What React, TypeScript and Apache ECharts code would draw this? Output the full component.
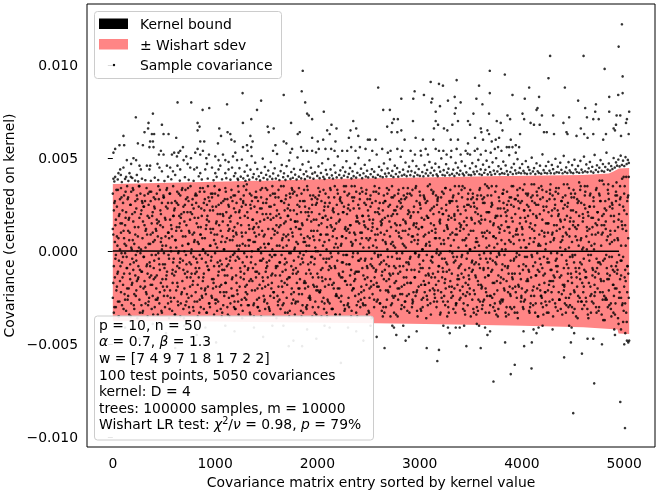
import React, { useEffect, useRef } from "react";
import * as echarts from "echarts";

// ---------- data (x = entry index, y in units of 1e-4) ----------
const xTicks = [0, 1000, 2000, 3000, 4000, 5000];
const yTicks = [-0.01, -0.005, 0, 0.005, 0.01];
const Y_UNIT = 1e-4;
const GROUP = 10; // inBand[k] holds samples near entry k*GROUP, inBandMid[k] near k*GROUP+5

const bandIdx = [0, 1000, 2100, 3000, 3800, 4600, 4850, 4900, 4950, 5049];
const bandUpper = [36.1, 37.3, 38.8, 39.6, 40.4, 41.0, 41.8, 43.0, 44.5, 44.8];
const bandLowerIdx = [0, 1000, 2589, 3205, 4000, 4600, 4900, 4935, 4945, 5049];
const bandLower = [-37.5, -37.8, -38.7, -39.2, -40.0, -40.8, -41.9, -42.0, -44.2, -44.4];

const kernelIdx = [0, 2500, 4950];
const kernelVal = [0.1, 0, 0];

const inBand = [
[12,-25,31],[-8,22,-33],[5,-14,27],[-30,17,-2],[24,-19,8],[-11,33,-27],[19,-5,-35],[1,28,-16],[-22,10,34],[15,-29,-6],
[-3,26,-18],[30,-12,7],[-26,14,-1],[21,-32,3],[-9,35,-20],[11,-24,29],[-34,6,18],[25,-7,-15],[2,-28,32],[-17,20,-4],
[33,-10,16],[-23,4,-31],[9,27,-13],[-5,-21,23],[28,-36,0],[-14,13,-8],[18,-26,35],[-1,31,-19],[22,-11,-29],[7,-33,26],
[-20,24,-3],[14,-16,30],[-28,2,11],[34,-8,-23],[-12,19,-35],[4,-27,25],[-6,32,-14],[27,-18,9],[-31,15,-2],[10,-24,21],
[-15,29,-9],[23,-30,6],[-2,12,-26],[31,-13,17],[-25,8,-34],[16,-4,28],[-10,-22,33],[20,5,-17],[-33,26,1],[13,-19,-7],
[29,-1,-24],[-7,18,-30],[3,-15,24],[-19,34,-11],[26,-28,10],[-4,7,-36],[17,-21,31],[-27,0,14],[8,-12,-32],[35,-6,19],
[-13,22,-25],[6,-34,27],[-21,11,2],[32,-17,-8],[-1,25,-29],[19,-9,13],[-35,30,-4],[11,-23,20],[-16,3,34],[24,-31,-10],
[0,16,-20],[-29,33,8],[14,-7,-27],[-11,21,29],[27,-25,4],[-6,10,-33],[21,-14,35],[-24,1,-12],[9,28,-18],[-32,-3,23],
[18,-27,6],[-9,31,-22],[30,-11,15],[-18,5,-35],[4,24,-14],[-26,-2,32],[13,-30,9],[-4,19,-24],[34,-16,1],[-12,26,-31],
[7,-21,28],[-23,12,-6],[25,-33,17],[-2,35,-19],[16,-10,-28],[-30,22,3],[10,-5,31],[-15,29,-25],[22,-20,12],[-8,6,-34],
[31,-26,-1],[-19,15,24],[2,-32,9],[-27,30,-13],[14,-8,33],[-5,20,-22],[26,-18,5],[-33,8,-10],[19,-29,27],[-10,1,-24],
[5,34,-17],[-22,-4,21],[28,-13,-30],[-7,25,11],[12,-35,18],[-28,16,-3],[33,-9,-20],[-14,27,6],[8,-24,30],[-1,13,-27],
[21,-31,-5],[-17,9,26],[15,-3,-23],[-34,32,1],[3,-19,22],[-11,28,-14],[24,-26,10],[-6,4,-32],[30,-15,35],[-25,19,-8],
[10,-22,25],[-3,36,-18],[18,-10,-29],[-29,14,3],[6,-33,31],[-15,23,-6],[27,0,-21],[-9,17,12],[13,-28,-35],[-21,5,29],
[32,-14,8],[-26,21,-11],[1,-30,27],[-12,9,-25],[23,-5,16],[-35,29,-1],[11,-20,34],[-4,26,-16],[17,-27,4],[-19,2,-31],
[26,-9,20],[-8,33,-28],[4,-18,12],[-31,24,-5],[20,-24,30],[-13,7,-20],[35,-12,1],[-22,18,-34],[9,-2,25],[-2,29,-13],
[14,-36,19],[-24,10,-8],[29,-19,33],[-6,3,-26],[18,-31,14],[-16,27,-2],[7,-11,-29],[-28,35,9],[22,-7,-17],[-10,16,28],
[3,-25,-6],[-33,19,23],[25,-14,6],[-14,31,-32],[12,-1,17],[-20,-28,34],[31,8,-12],[-5,22,-22],[16,-34,2],[-27,13,-9],
[20,-17,30],[-11,4,-27],[34,-23,12],[-1,27,-15],[9,-32,21],[-23,15,-4],[27,-6,-33],[-17,33,7],[5,-20,24],[-30,0,-12],
[17,-29,35],[-7,21,-19],[23,-10,3],[-25,30,-26],[11,-3,16],[-3,25,-35],[30,-18,8],[-19,6,-7],[2,-27,29],[-34,17,-21],
[28,-12,11],[-14,34,-30],[6,-22,20],[-21,9,-2],[15,-35,27],[-9,18,-16],[33,-4,-25],[-28,24,5],[19,-15,31],[-4,1,-33],
[9,-26,17],[-18,29,-10],[26,-8,-28],[-1,14,33],[13,-31,-3],[-31,22,8],[21,-17,-20],[-8,35,12],[4,-24,-34],[-24,7,25],
[31,-20,2],[-12,16,-25],[17,-34,28],[-27,3,-14],[8,26,-6],[-6,-11,21],[24,-29,35],[-16,12,-31],[35,-2,7],[-2,20,-18],
[12,-28,23],[-30,31,-7],[22,-13,14],[-10,5,-35],[3,-21,29],[-20,27,-1],[29,-16,10],[-15,9,-24],[16,-33,32],[-35,18,-11],
[25,-5,-27],[-5,23,15],[10,-30,4],[-22,34,-19],[32,-9,19],[-13,2,-29],[14,-25,26],[-29,13,-4],[7,-18,33],[-9,28,-14],
[19,-32,6],[-25,17,-20],[30,-7,24],[-4,11,-36],[13,-23,15],[-18,32,-9],[35,-14,-1],[-11,6,27],[2,-27,-17],[-26,21,9],
[23,-19,31],[-7,26,-28],[16,-2,10],[-32,15,-13],[6,-35,22],[-15,30,-5],[27,-10,18],[-21,4,-30],[11,-26,34],[-3,19,-21],
[33,-15,-8],[-19,8,25],[4,-29,13],[-28,35,-3],[20,-12,29],[-8,22,-33],[15,-24,2],[-34,11,-16],[24,-4,20],[-12,31,-26],
[8,-20,27],[-23,14,-11],[28,-31,7],[-1,24,-23],[17,-8,34],[-30,3,-18],[11,-27,16],[-14,29,-6],[31,-17,-32],[-6,9,22],
[21,-33,12],[-17,18,-3],[5,-10,30],[-26,33,-28],[14,-22,21],[-10,6,-14],[34,-1,-24],[-22,27,15],[9,-35,4],[-3,12,-19],
[26,-7,32],[-31,23,-9],[13,-26,18],[-9,1,-30],[30,-16,8],[-18,28,-22],[3,-13,26],[-24,19,-2],[18,-29,35],[-13,10,-17],
[36,-21,3],[-5,15,-34],[11,-3,23],[-20,31,-12],[24,-27,14],[-14,7,-25],[7,-18,30],[-27,25,1],[29,-11,-21],[-2,21,-8],
[15,-34,17],[-22,4,29],[32,-14,-4],[-11,20,-27],[4,-24,11],[-29,34,-15],[22,-6,25],[-7,13,-35],[17,-30,7],[-19,27,-10],
[9,-16,33],[-25,18,-22],[27,-1,10],[-3,30,-31],[19,-20,20],[-33,9,-5],[12,-28,27],[-15,24,-18],[31,-9,2],[-8,15,-26],
[20,-25,13],[-12,33,-3],[6,-19,35],[-28,12,-14],[34,-32,6],[-17,22,-24],[14,-4,18],[-1,28,-29],[25,-13,9],[-23,1,-20],
[11,-35,24],[-6,17,-11],[29,-10,31],[-21,26,-33],[2,-23,15],[-14,5,-6],[23,-30,28],[-32,20,-16],[16,-7,3],[-9,34,-27],
[30,-18,19],[-19,10,-31],[8,-27,26],[-26,29,-1],[17,-14,36],[-4,7,-22],[35,-24,11],[-13,21,-9],[3,-33,21],[-29,16,-4],
[24,-11,30],[-10,25,-25],[14,-30,8],[-23,2,-17],[32,-6,18],[-7,35,-34],[19,-21,4],[-31,13,-13],[10,-2,27],[-17,23,-28],
[6,-26,14],[-27,31,-7],[26,-15,33],[-2,11,-21],[21,-33,1],[-16,19,-30],[13,-9,22],[-34,27,-12],[29,-19,10],[-5,5,-24],
[18,-31,35],[-20,16,-15],[4,-5,24],[-12,28,-33],[28,-22,9],[-25,12,-1],[9,-36,30],[-8,23,-19],[34,-12,15],[-15,2,-27],
[13,-20,27],[-30,33,-10],[22,-27,6],[-3,18,-26],[16,-8,31],[-21,25,-3],[31,-16,19],[-11,4,-32],[7,-30,22],[-24,29,-14],
[27,-3,12],[-8,20,-29],[11,-24,36],[-33,14,-6],[19,-13,25],[-1,30,-20],[25,-35,3],[-18,9,-11],[3,-21,28],[-28,35,-24],
[33,-9,17],[-13,24,-34],[8,-17,10],[-22,1,-27],[24,-29,32],[-6,15,-4],[15,-33,21],[-27,28,-16],[36,-10,5],[-10,19,-22],
[10,-26,30],[-19,6,-13],[28,-14,23],[-5,32,-30],[14,-4,11],[-32,22,-8],[20,-22,34],[-14,12,-26],[5,-31,16],[-23,27,-2],
[29,-18,8],[-9,36,-21],[17,-28,25],[-25,10,-33],[9,-7,19],[-16,26,-12],[34,-25,2],[-3,16,-29],[22,-12,31],[-30,5,-17],
[14,-33,22],[-21,29,-6],[31,-2,13],[-11,21,-35],[6,-19,28],[-27,14,-24],[19,-9,37],[-6,33,-15],[26,-27,7],[-17,1,-31],
[2,-22,18],[-29,25,-10],[23,-14,32],[-14,8,-27],[35,-31,11],[-2,19,-36],[12,-5,24],[-24,31,-19],[18,-23,3],[-9,13,-13],
[27,-28,29],[-18,4,-24],[9,-11,15],[-33,34,-4],[21,-20,21],[-12,17,-32],[30,-6,38],[-7,27,-15],[14,-34,9],[-22,10,-26],
[36,-16,20],[-4,23,-37],[16,-25,12],[-26,6,-9],[8,-30,33],[-15,28,-21],[24,-13,4],[-31,19,-28],[5,-3,26],[-10,35,-18],
[19,-24,16],[-20,11,-34],[32,-8,27],[-6,30,-12],[13,-36,6],[-25,20,-2],[28,-15,35],[-13,3,-25],[39,-29,14],[-3,24,-38],
[22,-19,31],[-28,14,-10],[11,-33,40],[-8,27,-22],[30,-12,7]
];

const inBandMid = [
[-17,9],[26,-30],[-4,14],[33,-21],[-12,3],[7,-35],[-27,20],[15,-8],[-1,29],[22,-14],
[-31,11],[4,-23],[18,32],[-9,-3],[28,-26],[-20,17],[10,-12],[-35,25],[1,-18],[34,6],
[-6,-29],[13,21],[-24,-2],[30,-16],[-15,8],[2,35],[-33,-10],[20,1],[-11,27],[16,-32],
[-3,24],[27,-19],[-22,12],[9,-7],[-29,31],[18,-25],[-8,4],[32,-13],[-18,19],[5,-34],
[24,-5],[-14,28],[11,-20],[-26,15],[35,-1],[-7,-28],[14,22],[-32,7],[3,-15],[29,30],
[-21,-9],[8,17],[-13,33],[23,-24],[-2,10],[31,-31],[-25,2],[12,26],[-10,-17],[19,-4],
[-34,23],[6,-11],[26,13],[-19,-27],[0,31],[15,-6],[-28,18],[33,-22],[-5,8],[21,-36],
[-12,25],[28,-2],[-23,-14],[4,34],[-30,11],[17,-19],[-7,-1],[25,20],[-16,-30],[10,5],
[30,-12],[-4,26],[-27,-6],[13,18],[-9,-33],[34,9],[-20,23],[7,-25],[-14,1],[22,32],
[-1,-20],[-33,14],[19,-8],[-10,29],[27,-28],[3,12],[-24,-3],[31,24],[-17,-15],[9,35],
[-28,4],[16,-26],[-6,20],[25,-11],[-19,33],[11,-31],[-35,-7],[20,16],[1,-22],[-13,28],
[32,-17],[-8,7],[14,-34],[-25,24],[6,-5],[29,19],[-15,-24],[-2,11],[23,-30],[-31,30],
[10,-13],[-21,3],[35,-27],[-4,21],[18,-9],[-29,14],[8,-36],[26,27],[-12,-1],[3,-19],
[-26,33],[21,-23],[-9,6],[12,-16],[-34,25],[30,-3],[-16,17],[5,-29],[24,10],[-7,-11],
[15,29],[-30,-20],[1,13],[-18,-32],[33,2],[-5,23],[20,-14],[-24,8],[9,-26],[-11,34],
[28,-6],[-14,18],[4,-30],[-32,-2],[17,24],[-3,-17],[31,12],[-22,-25],[11,31],[-8,-9],
[22,3],[-27,-29],[13,20],[-6,-13],[35,27],[-19,6],[2,-22],[26,15],[-33,-4],[8,30],
[-15,-18],[19,9],[-1,-35],[29,22],[-23,-8],[10,33],[-10,-26],[32,1],[-28,16],[5,-12],
[16,25],[-20,-3],[24,-20],[-7,12],[-35,31],[14,-29],[-2,5],[27,-16],[-17,21],[3,-31],
[33,8],[-25,19],[7,-24],[-12,-6],[21,28],[-30,-14],[11,17],[-4,-33],[25,0],[-19,26],
[0,-21],[30,14],[-22,32],[9,-10],[-14,-27],[18,3],[-31,22],[26,-19],[-6,9],[13,-35],
[-27,24],[6,-4],[34,-15],[-9,18],[-18,-31],[23,11],[2,29],[-34,-9],[15,-23],[-5,33],
[20,-1],[-13,-20],[29,27],[-24,4],[8,-14],[-2,21],[32,-32],[-16,13],[11,-7],[-29,30],
[25,-25],[-7,10],[14,-18],[-32,35],[4,-3],[-20,23],[35,-12],[-11,6],[19,-29],[-1,16],
[-23,-11],[28,31],[-4,-26],[10,7],[-28,19],[16,-21],[-15,-5],[31,25],[-8,-34],[22,12],
[-33,2],[7,28],[-19,-16],[26,-8],[3,17],[-26,-30],[21,9],[-10,32],[12,-19],[-3,-2],
[34,20],[-21,-28],[-6,14],[17,-11],[-30,26],[9,-33],[27,5],[-16,-7],[1,31],[24,-22],
[-12,16],[-35,-13],[19,29],[5,-24],[-25,3],[30,-17],[-9,22],[14,-1],[-20,-35],[33,10],
[-4,-8],[23,26],[-29,-19],[11,4],[-14,30],[28,-27],[2,15],[-24,-10],[20,34],[-7,-23],
[31,-4],[-17,19],[8,-30],[-27,8],[15,24],[-1,-14],[35,13],[-21,-32],[6,21],[-11,-2],
[25,30],[-32,-18],[13,1],[-5,-25],[29,17],[-18,9],[4,-36],[-26,27],[18,-12],[-9,5],
[22,-28],[-14,33],[-3,-6],[32,20],[-23,-21],[10,12],[-30,-1],[27,28],[-8,-16],[16,7],
[-1,-33],[-25,23],[20,-9],[6,31],[-17,-4],[34,-20],[-11,14],[12,-27],[-33,19],[26,0],
[3,27],[-19,-12],[29,-24],[-6,6],[17,35],[-28,-29],[9,-3],[-13,22],[35,-15],[-21,11],
[14,-7],[-2,29],[-31,-23],[24,16],[-10,-34],[7,3],[-22,25],[31,-18],[-15,-9],[1,33],
[28,18],[-26,-5],[11,-31],[-7,24],[21,-13],[-34,7],[5,30],[-18,-26],[33,-2],[-4,15],
[17,-20],[-29,28],[-9,-10],[26,10],[-20,-33],[2,21],[30,-6],[-13,34],[10,-24],[-24,-1],
[35,26],[-5,-17],[15,8],[-32,-28],[7,19],[-16,-3],[23,-35],[-1,29],[-27,12],[19,-14],
[-10,1],[31,-26],[-20,23],[4,-8],[-35,16],[25,32],[-8,-22],[13,6],[-23,-30],[29,25],
[-14,-12],[8,35],[-30,-4],[20,-19],[-3,11],[33,-33],[-18,27],[6,-2],[26,18],[-25,-24],
[12,9],[-7,-31],[36,22],[-22,2],[2,-16],[-15,30],[24,-10],[-33,13],[15,-28],[-2,36],
[30,-21],[-19,5],[7,26],[-28,-13],[18,32],[-10,-35],[34,4],[-4,20],[-24,-7],[11,-25],
[-30,29],[22,-3],[-12,-22],[4,15],[27,-33],[-21,10],[-6,-18],[33,31],[-16,-1],[9,22],
[-35,-16],[14,7],[25,-28],[-8,34],[-1,-11],[31,19],[-26,-26],[17,2],[-13,27],[6,-34],
[23,13],[-18,-19],[1,30],[-29,-5],[36,24],[-9,-30],[12,8],[-23,18],[29,-14],[-3,-2],
[16,33],[-31,-22],[8,-9],[-14,12],[26,-36],[3,27],[-25,-12],[35,6],[-7,-27],[20,16],
[-19,-4],[30,35],[-11,-25],[13,1],[-34,21],[5,-17],[24,30],[-2,-33],[-27,9],[18,-10],
[1,24],[-22,-14],[33,-30],[-9,14],[10,-6],[-30,31],[27,-22],[-16,3],[38,19],[-5,-37],
[14,-24],[-26,27],[22,-2],[-12,-15],[31,36],[-3,-29],[9,11],[-35,-8],[25,23],[-18,-33],
[6,-11],[-28,30],[37,-20],[-10,7],[17,-39],[-22,25],[29,-5],[-5,16],[12,-28],[-32,40],
[35,-14],[-16,3],[20,-38],[-8,29],[40,-25]
];

// [index, value] pairs
const upperTail = [
633,80, 767,80, 1117,79, 392,74, 225,72, 878,76, 943,77, 349,69, 480,68, 345,66, 829,69, 848,67, 829,65, 1041,66, 1122,64, 1149,63,
104,62, 310,64, 382,63, 404,63, 545,63, 496,63, 620,61, 894,59, 855,59, 1028,58, 1058,62, 1159,60, 1191,59, 23,55, 6,53, 65,57, 111,57,
245,58, 294,57, 365,59, 392,59, 358,56, 398,56, 470,54, 496,52, 451,52, 578,52, 600,53, 642,53, 659,54, 686,56, 627,51, 718,51, 764,50,
806,53, 829,55, 855,52, 881,54, 914,50, 940,52, 1002,51, 1034,49, 1077,52, 1100,49, 1132,48, 1175,51, 1198,53, 1215,49, 137,49, 202,50,
228,49, 179,47, 261,46, 274,44, 365,46, 358,44, 333,46, 72,44, 104,45, 23,40, 6,39, 55,42, 78,41, 163,42, 176,40, 130,40, 235,41, 218,38,
437,47, 456,45, 480,43, 529,46, 561,45, 588,43, 610,41, 632,46, 659,44, 692,49, 731,47, 757,45, 796,44, 822,45, 855,42, 904,44, 921,47,
970,45, 1002,42, 1034,44, 1051,46, 1100,42, 1132,44, 1166,45, 1198,42, 1220,39,
1857,97, 1269,85, 1671,84, 1847,86, 2595,88, 1450,81, 1881,80, 1410,76, 2063,75, 1900,74, 1916,73, 1949,71, 1272,69, 1354,71, 1743,69,
2138,68, 2187,66, 2351,70, 2380,66, 2324,65, 1514,67, 1573,66, 1524,64, 1828,64, 1808,63, 2096,65, 2121,63, 1345,62, 1367,59, 1312,57,
1273,56, 1318,54, 1354,56, 1949,61, 2004,59, 2057,60, 2177,59, 2308,61, 2400,62, 2494,60, 2513,60, 2569,60, 1590,57, 1567,54, 1671,59,
1697,58, 1753,55, 1736,53, 1841,56, 1861,54, 1900,54, 1949,54, 2014,55, 2079,55, 2135,55, 2168,54, 2243,54, 2292,54, 2331,56, 2373,54,
2416,56, 2471,55, 2537,54,
3686,97, 3833,95, 3108,91, 3189,90, 3228,89, 3362,92, 3581,89, 2951,86, 3042,84, 2821,82, 2938,82, 3124,82, 3114,80, 3343,83, 3277,81,
3401,80, 3555,82, 3614,79, 3686,85, 3908,84, 2644,76, 2709,76, 3199,78, 3157,75, 3353,77, 3343,74, 3526,74, 3679,74, 3859,73, 3885,71,
3754,70, 3793,69, 2748,71, 2732,69, 2787,71, 2683,67, 2726,64, 2782,64, 2821,65, 2935,70, 3157,70, 3180,68, 3140,66, 3238,66, 3271,65,
3320,68, 3375,70, 3473,70, 3493,68, 3598,66, 3604,64, 3663,65, 3679,63, 3777,61, 3810,65, 3891,60, 3982,63, 2853,60, 2961,61, 3032,60,
3134,60, 3304,60, 3375,60, 3473,58, 3542,61, 3620,60, 3705,59, 3744,60, 3908,56, 3940,57, 2634,55, 2689,53, 2716,54, 2782,55, 2830,54,
2912,54, 2954,52, 3010,54, 3059,55, 3081,52, 3157,55, 3189,54, 3232,54, 3264,52, 3310,54, 3362,55, 3401,52, 3450,54, 3493,52, 3539,54,
3565,55, 3598,52, 3646,54, 3695,53, 3735,55, 3767,56, 3800,54, 3852,56, 3875,56, 3940,53, 3973,56,
4978,122, 4946,110, 4276,105, 4603,105, 4809,98, 4260,93, 4985,94, 4071,88, 4420,88, 4028,82, 4168,83, 4550,81, 4854,83, 4942,84,
4985,85, 4153,77, 4143,76, 4006,74, 4022,71, 4196,73, 4306,73, 4462,72, 4619,77, 4724,79, 4717,75, 4636,72, 4698,71, 4751,71, 4854,75,
4926,73, 4962,73, 5027,71, 5049,75, 4085,69, 4118,68, 4174,68, 4216,64, 4243,64, 4314,63, 4406,69, 4436,64, 4446,63, 4534,62, 4576,66,
4609,63, 4642,61, 4698,63, 4795,60, 4822,63, 4897,66, 4910,65, 4920,68, 4969,62, 5018,69, 5044,63
];

// estimated samples in the dense strip just above the band
const upperNear = [
15,37.5, 48,38.6, 88,37.2, 120,38.9, 152,37.8, 190,39.4, 248,37.6, 285,39.0, 318,38.2, 372,37.9, 410,39.6, 444,38.3, 505,37.8,
540,40.1, 572,38.7, 655,38.0, 705,39.8, 742,38.4, 790,37.9, 840,40.3, 870,38.6, 928,39.1, 985,38.2, 1015,40.0, 1068,38.7, 1110,39.3,
1150,38.5, 1185,40.4,
1225,38.4, 1238,44.7, 1251,40.1, 1262,49.3, 1276,39.2, 1289,42.8, 1297,37.9, 1311,46.1, 1319,40.6, 1334,38.5, 1346,43.9, 1357,51.2,
1369,39.7, 1378,41.5, 1392,47.6, 1404,38.8, 1413,44.2, 1427,40.3, 1440,38.1, 1451,42.2, 1466,49.8, 1474,39.4, 1487,45.3, 1499,41.1,
1511,38.6, 1520,43.4, 1536,40.2, 1545,47.9, 1559,38.9, 1568,41.8, 1583,44.6, 1594,39.1, 1606,52.3, 1617,40.7, 1629,38.3, 1641,43.1,
1652,46.4, 1666,39.8, 1674,41.9, 1688,38.4, 1699,45.7, 1712,40.4, 1724,48.8, 1737,38.9, 1745,42.6, 1760,39.5, 1771,44.3, 1783,41.2,
1797,38.6, 1806,50.4, 1819,40.1, 1833,43.8, 1842,39.2, 1855,46.7, 1867,41.4, 1878,38.8, 1891,42.9, 1903,40.3, 1914,48.1, 1928,39.6,
1937,44.9, 1951,41.7, 1962,39.0, 1976,42.4, 1987,53.1, 1999,40.5, 2011,45.6, 2022,39.3, 2035,42.1, 2047,47.3, 2058,40.0, 2070,38.9,
2083,43.7, 2094,41.3, 2106,49.6, 2117,39.5, 2129,44.0, 2142,40.8, 2153,39.1, 2166,46.2, 2177,42.3, 2189,39.7, 2200,51.0, 2214,41.0,
2225,43.5, 2236,39.4, 2249,45.1, 2260,40.6, 2273,42.7, 2284,48.4, 2296,39.9, 2308,41.6, 2319,44.8, 2333,39.2, 2344,43.0, 2355,40.4,
2368,47.0, 2379,39.6, 2391,42.2, 2402,50.2, 2416,40.9, 2427,44.4, 2438,39.3, 2451,41.9, 2463,46.5, 2474,40.2, 2486,43.3, 2497,39.7,
2510,48.9, 2521,41.4, 2533,44.1, 2544,40.0, 2556,42.8, 2569,39.5, 2580,52.0, 2592,41.1, 2603,45.4, 2615,40.3, 2628,43.6, 2639,39.8,
2651,47.2, 2662,41.7, 2675,40.2, 2686,44.5, 2698,42.0, 2710,49.4, 2721,40.6, 2733,43.2, 2744,39.9, 2757,46.0, 2768,41.5, 2780,44.7,
2791,40.1, 2804,42.5, 2815,50.8, 2827,40.7, 2838,43.9, 2850,41.2, 2862,47.7, 2873,40.4, 2886,42.9, 2897,45.5, 2909,40.9, 2920,43.1,
2932,48.6, 2944,40.2, 2955,42.3, 2968,45.8, 2979,41.0, 2991,44.2, 3002,40.5, 3014,51.5, 3026,42.6, 3037,40.3, 3049,46.3, 3060,41.8,
3073,43.7, 3084,40.6, 3096,48.0, 3107,42.1, 3119,44.9, 3130,40.8, 3143,43.4, 3154,47.1, 3166,41.3, 3177,40.4, 3189,45.2, 3201,42.8,
3212,49.9, 3224,41.0, 3235,43.6, 3247,40.7, 3259,46.8, 3270,42.3, 3282,44.4, 3293,40.9, 3306,50.6, 3317,41.6, 3329,43.9, 3340,40.5,
3352,47.5, 3364,42.0, 3375,45.0, 3387,41.2, 3398,43.3, 3411,48.3, 3422,41.7, 3434,40.8, 3445,45.9, 3457,42.4, 3469,52.5, 3480,41.1,
3492,44.6, 3503,40.9, 3515,47.4, 3527,42.7, 3538,41.4, 3550,45.6, 3561,43.0, 3574,49.1, 3585,41.5, 3597,44.0, 3608,41.0, 3620,46.6,
3632,42.2, 3643,43.8, 3655,48.7, 3666,41.3, 3679,45.3, 3690,42.5, 3702,41.1, 3713,47.8, 3725,43.4, 3737,41.6, 3748,50.0, 3760,42.9,
3771,45.7, 3783,41.4, 3795,44.3, 3806,42.0, 3818,48.2, 3829,41.7, 3841,46.1, 3853,43.1, 3864,41.2, 3876,51.7, 3887,42.6, 3899,45.0,
3911,41.5, 3922,47.0, 3934,43.5, 3945,41.8, 3957,49.5, 3969,42.3, 3980,44.8, 3992,41.9, 4003,46.9, 4015,43.2, 4027,42.0, 4038,48.5,
4050,41.6, 4061,45.2, 4073,43.7, 4085,41.8, 4096,50.3, 4108,42.9, 4119,44.7, 4131,41.5, 4143,47.3, 4154,43.0, 4166,42.1, 4177,46.0,
4189,41.7, 4201,52.1, 4212,43.6, 4224,42.2, 4235,45.8, 4247,41.9, 4259,48.1, 4270,43.3, 4282,42.0, 4293,46.4, 4305,44.1, 4317,41.8,
4328,49.7, 4340,42.5, 4351,45.5, 4363,42.3, 4375,47.6, 4386,43.8, 4398,41.9, 4409,51.3, 4421,42.7, 4433,45.1, 4444,42.1, 4456,47.9,
4467,43.5, 4479,42.4, 4491,46.3, 4502,42.0, 4514,49.2, 4525,44.0, 4537,42.6, 4549,45.9, 4560,42.2, 4572,48.6, 4583,43.9, 4595,42.4,
4607,50.9, 4618,43.0, 4630,46.7, 4641,42.5, 4653,44.6, 4665,48.0, 4676,42.9, 4688,45.4, 4699,42.3, 4711,51.8, 4723,43.7, 4734,46.2,
4746,42.7, 4757,44.9, 4769,49.0, 4781,43.2, 4792,46.9, 4804,42.8, 4815,45.3, 4827,53.0, 4839,43.9, 4850,47.2, 4862,43.4, 4873,45.8,
4885,44.2, 4897,50.1, 4908,45.0, 4920,47.8, 4931,46.0, 4943,49.3, 4955,45.6, 4966,51.4, 4978,46.4, 4989,48.7, 5001,45.8, 5013,50.6,
5024,46.9, 5036,49.1, 5045,47.5
];

// [index, value] pairs below the band
const lowerTail = [
2657,-52, 3069,-52, 3189,-53, 3173,-59, 3457,-51, 3597,-52, 3722,-70, 3891,-66, 3930,-61, 4022,-51, 4094,-63, 4097,-49, 3836,-49,
4413,-57, 4479,-49, 4587,-55, 4502,-87, 4707,-71, 4642,-47, 4698,-47, 4783,-50, 4962,-81, 5008,-95, 5001,-50, 5027,-48, 5049,-48,
5040,-49, 2971,-43, 2863,-48, 2895,-46, 2772,-45, 2733,-40, 2749,-41, 2840,-40, 3232,-40, 3277,-41, 3294,-44, 3353,-41, 3392,-41,
3435,-40, 3559,-39, 3581,-40, 3640,-41, 3689,-43, 3663,-45, 4016,-43, 4114,-42, 4143,-44, 4163,-41, 4202,-40, 4300,-42, 4462,-40,
4486,-41, 4511,-44, 4903,-42, 4910,-45, 4969,-42, 5011,-44,
120,-41, 260,-47, 390,-39, 520,-44, 610,-52, 700,-40, 820,-45, 905,-41, 1010,-49, 1100,-40, 1190,-43, 1300,-56, 1380,-41, 1470,-46,
1560,-40, 1668,-40, 1720,-51, 1766,-48, 1851,-51, 1900,-42, 1990,-47, 2070,-40, 2120,-41, 2230,-60, 2300,-41, 2380,-43, 2450,-48,
2520,-40, 2580,-46
];

const FONT = "DejaVu Sans";
const FS = 13.9;

function toPairs(flat: number[]): number[][] {
  const out: number[][] = [];
  for (let i = 0; i + 1 < flat.length; i += 2) out.push([flat[i], flat[i + 1] * Y_UNIT]);
  return out;
}

function samplePoints(): number[][] {
  const pts: number[][] = [];
  inBand.forEach((col, k) => col.forEach((v) => pts.push([k * GROUP, v * Y_UNIT])));
  inBandMid.forEach((col, k) => col.forEach((v) => pts.push([k * GROUP + GROUP / 2, v * Y_UNIT])));
  return pts.concat(toPairs(upperTail), toPairs(upperNear), toPairs(lowerTail));
}

function fmtY(v: number): string {
  if (Math.abs(v) < 1e-12) return "0.000";
  return (v < 0 ? "\u2212" : "") + Math.abs(v).toFixed(3);
}

const infoLines = [
  "{n|p = 10, n = 50}",
  "{i|\u03b1}{n| = 0.7, }{i|\u03b2}{n| = 1.3}",
  "{n|w = [7 4 9 7 1 8 1 7 2 2]}",
  "{n|100 test points, 5050 covariances}",
  "{n|kernel: D = 4}",
  "{n|trees: 100000 samples, m = 10000}",
  "{n|Wishart LR test: }{i|\u03c7}{sup|2}{n|/}{i|\u03bd}{n| = 0.98, }{i|p}{n| = 79%}",
];
const infoY = [325, 341, 358, 374.5, 391, 407.5, 424];

export default function App() {
  const ref = useRef<HTMLDivElement>(null);

  useEffect(() => {
    if (!ref.current) return;
    const chart = echarts.init(ref.current, undefined, { renderer: "svg" });

    const rich = {
      n: { fontFamily: FONT, fontSize: FS, fill: "#000", color: "#000" },
      i: { fontFamily: FONT, fontSize: FS, fontStyle: "italic", fill: "#000", color: "#000" },
      sup: { fontFamily: FONT, fontSize: 9.7, fill: "#000", color: "#000", verticalAlign: "top", padding: [0, 0, 7, 0] },
    };

    const graphics: any[] = [
      {
        type: "rect", zlevel: 1, z: 100,
        shape: { x: 94.5, y: 11.5, width: 187, height: 67, r: 3 },
        style: { fill: "rgba(255,255,255,0.85)", stroke: "#cccccc", lineWidth: 1 },
      },
      { type: "rect", zlevel: 1, z: 101, shape: { x: 99, y: 18.5, width: 29, height: 10.5 }, style: { fill: "#000" } },
      { type: "rect", zlevel: 1, z: 101, shape: { x: 99, y: 39, width: 29, height: 10.5 }, style: { fill: "#ff8585" } },
      { type: "circle", zlevel: 1, z: 101, shape: { cx: 114, cy: 65, r: 1.2 }, style: { fill: "#000" } },
      { type: "text", zlevel: 1, z: 101, x: 140, y: 23.5, style: { text: "Kernel bound", fontFamily: FONT, fontSize: FS, fill: "#000", verticalAlign: "middle" } },
      { type: "text", zlevel: 1, z: 101, x: 140, y: 44.5, style: { text: "\u00b1 Wishart sdev", fontFamily: FONT, fontSize: FS, fill: "#000", verticalAlign: "middle" } },
      { type: "text", zlevel: 1, z: 101, x: 140, y: 65, style: { text: "Sample covariance", fontFamily: FONT, fontSize: FS, fill: "#000", verticalAlign: "middle" } },
      {
        type: "rect", zlevel: 1, z: 100,
        shape: { x: 94.5, y: 316, width: 279, height: 124, r: 3 },
        style: { fill: "rgba(255,255,255,0.9)", stroke: "#cccccc", lineWidth: 1 },
      },
      ...infoLines.map((t, idx) => ({
        type: "text", zlevel: 1, z: 101, x: 99, y: infoY[idx],
        style: { text: t, rich, fontFamily: FONT, fontSize: FS, fill: "#000", verticalAlign: "middle", align: "left" },
      })),
    ];

    chart.setOption({
      animation: false,
      textStyle: { fontFamily: FONT },
      grid: {
        left: 87, right: 4, top: 4, bottom: 48,
        show: true, borderColor: "#000", borderWidth: 1, backgroundColor: "transparent",
        outerBoundsMode: "none",
      },
      xAxis: {
        type: "value", min: -252.45, max: 5301.45,
        splitLine: { show: false },
        axisLine: { show: false },
        axisTick: { show: true, customValues: xTicks, length: 5, lineStyle: { color: "#000", width: 1 } },
        axisLabel: { customValues: xTicks, margin: 9, color: "#000", fontSize: FS, fontFamily: FONT, formatter: (v: number) => String(Math.round(v)) },
        name: "Covariance matrix entry sorted by kernel value",
        nameLocation: "middle", nameGap: 27,
        nameTextStyle: { color: "#000", fontSize: FS, fontFamily: FONT },
      },
      yAxis: {
        type: "value", min: -0.01052, max: 0.01329,
        splitLine: { show: false },
        axisLine: { show: false },
        axisTick: { show: true, customValues: yTicks, length: 5, lineStyle: { color: "#000", width: 1 } },
        axisLabel: { customValues: yTicks, margin: 9, color: "#000", fontSize: FS, fontFamily: FONT, formatter: fmtY },
        name: "Covariance (centered on kernel)",
        nameLocation: "middle", nameGap: 67, nameRotate: 90,
        nameTextStyle: { color: "#000", fontSize: FS, fontFamily: FONT },
      },
      graphic: graphics,
      series: [
        {
          type: "custom", silent: true, z: 1, clip: true,
          data: [[0, 0]],
          renderItem: (_p: any, api: any) => {
            const pts: number[][] = [];
            for (let i = 0; i < bandIdx.length; i++) pts.push(api.coord([bandIdx[i], bandUpper[i] * Y_UNIT]));
            for (let i = bandLowerIdx.length - 1; i >= 0; i--) pts.push(api.coord([bandLowerIdx[i], bandLower[i] * Y_UNIT]));
            return { type: "polygon", shape: { points: pts }, style: { fill: "#ff8585" } };
          },
        },
        {
          type: "scatter", silent: true, z: 2,
          symbol: "circle", symbolSize: 2.6,
          itemStyle: { color: "#000" },
          data: samplePoints(),
        },
        {
          type: "line", silent: true, z: 3, symbol: "none",
          lineStyle: { color: "#000", width: 1.5 },
          data: kernelIdx.map((x, i) => [x, kernelVal[i] * Y_UNIT]),
        },
      ],
    });

    return () => chart.dispose();
  }, []);

  return <div ref={ref} style={{ position: "fixed", left: 0, top: 0, width: 659, height: 495 }} />;
}
